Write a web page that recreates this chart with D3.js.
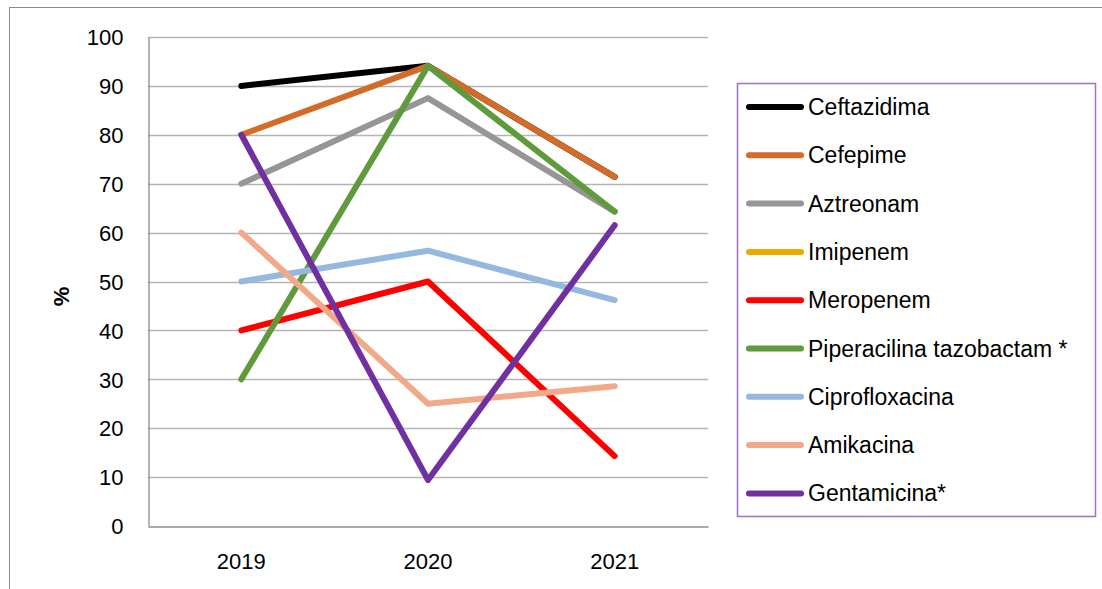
<!DOCTYPE html>
<html>
<head>
<meta charset="utf-8">
<script src="https://cdn.jsdelivr.net/npm/d3@7"></script>
<style>
  html, body { margin: 0; padding: 0; background: #fff; }
  svg { display: block; font-family: "Liberation Sans", Arial, sans-serif; }
</style>
</head>
<body>
<svg id="chart" width="1102" height="589"></svg>
<script>
// Years on the x axis
const years = ["2019", "2020", "2021"];

// Percentage per antibiotic and year
const ceftazidima   = [90, 94.1, 71.4];
const cefepime      = [80, 94.1, 71.4];
const aztreonam     = [70, 87.5, 64.3];
const imipenem      = [null, null, null];
const meropenem     = [40, 50, 14.3];
const piperacilina  = [30, 94.1, 64.3];
const ciprofloxacina = [50, 56.3, 46.2];
const amikacina     = [60, 25, 28.6];
const gentamicina   = [80, 9.4, 61.5];

const seriesNames = ["Ceftazidima", "Cefepime", "Aztreonam", "Imipenem", "Meropenem",
  "Piperacilina tazobactam *", "Ciprofloxacina", "Amikacina", "Gentamicina*"];
const seriesColors = ["#000000", "#d46b27", "#969696", "#e6ac00", "#ff0000",
  "#5f9a3c", "#95b8e0", "#f2a98a", "#7030a0"];
const seriesValues = [ceftazidima, cefepime, aztreonam, imipenem, meropenem,
  piperacilina, ciprofloxacina, amikacina, gentamicina];

const yTicks = [0, 10, 20, 30, 40, 50, 60, 70, 80, 90, 100];
const yLabel = "%";

const svg = d3.select("#chart");
const W = 1102, H = 589;

// outer chart frame
svg.append("rect")
  .attr("x", 9.5).attr("y", 7.5)
  .attr("width", W + 10).attr("height", H + 10)
  .attr("fill", "#fff").attr("stroke", "#8c8c8c").attr("stroke-width", 1);

const plot = { left: 148, right: 708, top: 37, bottom: 526 };

const x = d3.scaleBand().domain(years).range([plot.left, plot.right]);
const y = d3.scaleLinear().domain([0, 100]).range([plot.bottom, plot.top]);

// horizontal gridlines
svg.append("g")
  .selectAll("line")
  .data(yTicks.filter(d => d > 0))
  .join("line")
  .attr("x1", plot.left).attr("x2", plot.right)
  .attr("y1", d => Math.round(y(d)) + 0.5).attr("y2", d => Math.round(y(d)) + 0.5)
  .attr("stroke", "#b4b4b4").attr("stroke-width", 1.3);

// y axis
const yAxis = svg.append("g")
  .attr("transform", `translate(${plot.left + 0.5},0)`)
  .call(d3.axisLeft(y).tickValues(yTicks).tickSize(0).tickPadding(25));
yAxis.select(".domain").attr("stroke", "#8c8c8c").attr("stroke-width", 1.3);
yAxis.selectAll("text")
  .attr("font-size", 22).attr("fill", "#000")
  .attr("font-family", "Liberation Sans, Arial, sans-serif")
  .attr("dy", "0.35em");

// x axis
const xAxis = svg.append("g")
  .attr("transform", `translate(0,${plot.bottom + 0.5})`)
  .call(d3.axisBottom(x).tickSize(0).tickPadding(27));
xAxis.select(".domain").attr("stroke", "#8c8c8c").attr("stroke-width", 1.3);
xAxis.selectAll("text")
  .attr("font-size", 22).attr("fill", "#000")
  .attr("font-family", "Liberation Sans, Arial, sans-serif");

// y axis title
svg.append("text")
  .attr("transform", `translate(69,${(plot.top + plot.bottom) / 2 + 15}) rotate(-90)`)
  .attr("text-anchor", "middle")
  .attr("font-size", 22).attr("font-weight", "bold")
  .text(yLabel);

// series lines
const line = d3.line()
  .defined(d => d.v != null)
  .x(d => x(d.year) + x.bandwidth() / 2)
  .y(d => y(d.v));

const series = seriesNames.map((name, i) => ({
  name, color: seriesColors[i],
  points: years.map((yr, j) => ({ year: yr, v: seriesValues[i][j] }))
}));

svg.append("g")
  .selectAll("path")
  .data(series)
  .join("path")
  .attr("d", d => line(d.points))
  .attr("fill", "none")
  .attr("stroke", d => d.color)
  .attr("stroke-width", 6)
  .attr("stroke-linecap", "round")
  .attr("stroke-linejoin", "round");

// legend
const leg = { x: 737.5, y: 83.5, w: 358, h: 433, first: 107, step: 48.3 };
svg.append("rect")
  .attr("x", leg.x).attr("y", leg.y).attr("width", leg.w).attr("height", leg.h)
  .attr("fill", "#fff").attr("stroke", "#9b72c4").attr("stroke-width", 1.5);

const items = svg.append("g").selectAll("g")
  .data(series)
  .join("g")
  .attr("transform", (d, i) => `translate(0,${leg.first + i * leg.step})`);
items.append("line")
  .attr("x1", 749).attr("x2", 801)
  .attr("stroke", d => d.color).attr("stroke-width", 6)
  .attr("stroke-linecap", "round");
items.append("text")
  .attr("x", 808).attr("dy", "0.35em")
  .attr("font-size", 23).attr("fill", "#000")
  .text(d => d.name);
</script>
</body>
</html>
